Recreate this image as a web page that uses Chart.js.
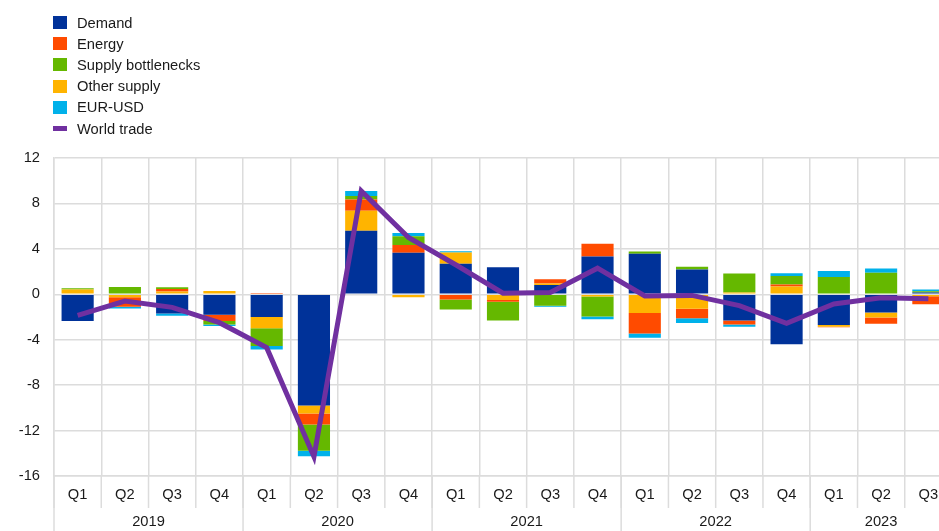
<!DOCTYPE html>
<html>
<head>
<meta charset="utf-8">
<script src="https://cdn.jsdelivr.net/npm/chart.js@4/dist/chart.umd.min.js"></script>
<style>
    body { margin: 0; overflow: hidden; background: #fff; font-family: "Liberation Sans", Arial, sans-serif; }
    #wrap { position: absolute; left: 0; top: 0; width: 960px; height: 531px; }
    #legend { position: absolute; left: 53px; top: 12px; font-size: 14.7px; color: #1a1a1a; }
    .item { height: 21.2px; display: flex; align-items: center; }
    .box { width: 14px; height: 13px; margin-right: 10px; }
    .line { width: 14px; height: 5px; margin-right: 10px; }
</style>
</head>
<body>
<div id="wrap"><canvas id="tradeChart"></canvas></div>
<div id="legend"></div>
<script>
// x axis
const quarters = ['Q1', 'Q2', 'Q3', 'Q4', 'Q1', 'Q2', 'Q3', 'Q4', 'Q1', 'Q2', 'Q3', 'Q4',
                  'Q1', 'Q2', 'Q3', 'Q4', 'Q1', 'Q2', 'Q3'];
const years = ['2019', '2020', '2021', '2022', '2023'];
const quartersPerYear = [4, 4, 4, 4, 3];
const yTicks = [-16, -12, -8, -4, 0, 4, 8, 12];

// contributions (percentage points)
const demand = [-2.35, 0, -1.7, -1.8, -2.0, -9.8, 5.6, 3.65, 2.68, 2.38, 0.82, 3.32,
                3.56, 2.18, -2.3, -4.4, -2.7, -1.6, 0.15];
const energy = [0, -0.85, 0.22, -0.55, 0.12, -0.97, 1.0, 0.7, -0.45, -0.15, 0.38, 1.12,
                -1.8, -0.85, -0.35, 0.18, -0.06, -0.55, -0.7];
const supplyBottlenecks = [0.12, 0.65, 0.15, -0.3, -1.56, -2.3, 0.3, 0.75, -0.9, -1.65, -1.0, -1.75,
                           0.2, 0.25, 1.68, 0.74, 1.53, 1.9, 0.12];
const otherSupply = [0.42, -0.25, 0.25, 0.3, -1.0, -0.7, 1.75, -0.27, 1.0, -0.5, 0.12, -0.2,
                     -1.65, -1.27, 0.15, 0.68, -0.15, -0.45, -0.18];
const eurUsd = [0, -0.15, -0.18, -0.15, -0.3, -0.5, 0.45, 0.3, 0.1, 0, -0.1, -0.25,
                -0.38, -0.4, -0.2, 0.26, 0.53, 0.38, 0.15];
const worldTrade = [-1.85, -0.6, -1.15, -2.5, -4.7, -14.3, 9.1, 5.0, 2.6, 0.1, 0.15, 2.3,
                    -0.15, -0.1, -1.0, -2.55, -0.85, -0.3, -0.4];

const colors = {
    demand: '#003299',
    energy: '#ff4b00',
    supply: '#65b800',
    other: '#ffb400',
    eur: '#00b1ea',
    trade: '#7030a0'
};
const gridColor = '#dcdcdc';
const fontSpec = { family: '"Liberation Sans", Arial, sans-serif', size: 14.7 };

document.addEventListener('DOMContentLoaded', () => {
    buildLegend();
    createChart();
});

function buildLegend() {
    const entries = [
        ['Demand', colors.demand, 'box'],
        ['Energy', colors.energy, 'box'],
        ['Supply bottlenecks', colors.supply, 'box'],
        ['Other supply', colors.other, 'box'],
        ['EUR-USD', colors.eur, 'box'],
        ['World trade', colors.trade, 'line']
    ];
    const legend = document.getElementById('legend');
    entries.forEach(([label, color, kind]) => {
        const row = document.createElement('div');
        row.className = 'item';
        row.innerHTML = `<span class="${kind}" style="background:${color}"></span><span>${label}</span>`;
        legend.appendChild(row);
    });
}

// year labels and the longer separators under the plot
const yearAxisPlugin = {
    id: 'yearAxis',
    afterDraw(chart) {
        const ctx = chart.ctx;
        const x = chart.scales.x;
        const bottom = chart.chartArea.bottom;
        const half = (x.getPixelForValue(1) - x.getPixelForValue(0)) / 2;
        ctx.save();
        ctx.strokeStyle = gridColor;
        ctx.lineWidth = 1.5;
        // short quarter ticks
        for (let i = 0; i <= quarters.length; i++) {
            const px = x.getPixelForValue(0) - half + i * half * 2;
            ctx.beginPath();
            ctx.moveTo(px, bottom);
            ctx.lineTo(px, bottom + 32);
            ctx.stroke();
        }
        ctx.fillStyle = '#1a1a1a';
        ctx.font = `${fontSpec.size}px ${fontSpec.family}`;
        ctx.textAlign = 'center';
        ctx.textBaseline = 'middle';
        let start = 0;
        years.forEach((year, k) => {
            const end = start + quartersPerYear[k] - 1;
            const left = x.getPixelForValue(start) - half;
            const right = x.getPixelForValue(end) + half;
            ctx.beginPath();
            ctx.moveTo(left, bottom);
            ctx.lineTo(left, chart.height);
            ctx.stroke();
            ctx.fillText(year, (left + right) / 2, 522);
            start = end + 1;
        });
        ctx.restore();
    }
};

function barSet(label, data, color) {
    return {
        type: 'bar',
        label: label,
        data: data,
        backgroundColor: color,
        borderWidth: 0,
        stack: 'contrib',
        order: 1,
        barPercentage: 0.68,
        categoryPercentage: 1.0
    };
}

function createChart() {
    const ctx = document.getElementById('tradeChart').getContext('2d');
    new Chart(ctx, {
        data: {
            labels: quarters,
            datasets: [
                {
                    type: 'line',
                    label: 'World trade',
                    data: worldTrade,
                    borderColor: colors.trade,
                    backgroundColor: colors.trade,
                    borderWidth: 5,
                    pointRadius: 0,
                    tension: 0,
                    stack: 'trade',
                    order: 0
                },
                // stacking order as in the original: demand, other supply, energy, bottlenecks, fx
                barSet('Demand', demand, colors.demand),
                barSet('Other supply', otherSupply, colors.other),
                barSet('Energy', energy, colors.energy),
                barSet('Supply bottlenecks', supplyBottlenecks, colors.supply),
                barSet('EUR-USD', eurUsd, colors.eur)
            ]
        },
        options: {
            responsive: true,
            maintainAspectRatio: false,
            animation: false,
            layout: { padding: { top: 158, right: 8, left: 0, bottom: 0 } },
            plugins: {
                legend: { display: false },
                tooltip: { enabled: false }
            },
            scales: {
                x: {
                    stacked: true,
                    offset: true,
                    grid: { color: gridColor, lineWidth: 1.5, drawTicks: false, offset: true },
                    border: { color: gridColor, width: 1.5 },
                    ticks: { color: '#1a1a1a', font: fontSpec, padding: 10, maxRotation: 0, autoSkip: false },
                    afterFit: (scale) => { scale.height = 55; }
                },
                y: {
                    stacked: true,
                    min: yTicks[0],
                    max: yTicks[yTicks.length - 1],
                    afterBuildTicks: (scale) => { scale.ticks = yTicks.map(v => ({ value: v })); },
                    grid: { color: gridColor, lineWidth: 1.5, drawTicks: false },
                    border: { color: gridColor, width: 1.5 },
                    ticks: { color: '#1a1a1a', font: fontSpec, padding: 14 },
                    afterFit: (scale) => { scale.width = 54; }
                }
            }
        },
        plugins: [yearAxisPlugin]
    });
}
</script>
</body>
</html>
